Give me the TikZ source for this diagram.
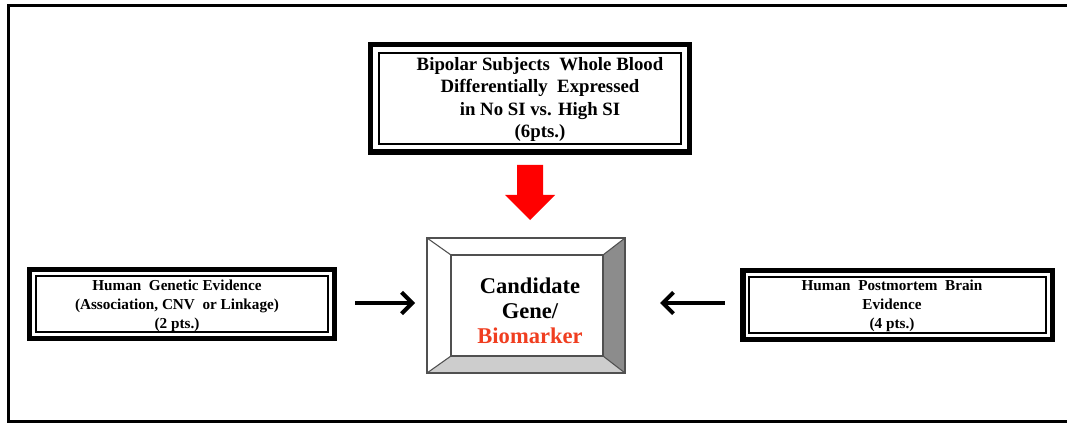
\documentclass[tikz,border=0pt]{standalone}
\usepackage{fontspec}
\setmainfont{Liberation Serif}
\usetikzlibrary{calc,arrows.meta}
\definecolor{bioorange}{RGB}{240,62,32}
\definecolor{bevdark}{RGB}{140,140,140}
\definecolor{bevlight}{RGB}{205,205,205}
\definecolor{bevline}{RGB}{80,80,80}
\tikzset{
  thickbox/.style={draw=black, line width=4.1pt, fill=white, inner sep=0pt, outer sep=0pt},
  thinline/.style={draw=black, line width=1.9pt},
  toptxt/.style={font=\fontsize{14.1pt}{16.9pt}\selectfont\bfseries, align=center, inner sep=0pt},
  sidetxt/.style={font=\fontsize{11.4pt}{14pt}\selectfont\bfseries, align=center, inner sep=0pt},
  candtxt/.style={font=\fontsize{16.9pt}{18.8pt}\selectfont\bfseries, align=center, inner sep=0pt},
  blkarrow/.style={line width=3pt, -{Straight Barb[length=8pt,width=16pt]}},
  bevel/.style={draw=bevline, line width=0.8pt, line join=miter}
}
\begin{document}
\begin{tikzpicture}[x=0.75pt, y=-0.75pt]
\useasboundingbox (0,0) rectangle (1067,424);
% outer frame (right side runs off the picture)
\draw[line width=2.3pt] (1067,5.5) -- (8.5,5.5) -- (8.5,421.5) -- (1067,421.5);

% top box
\node[thickbox, minimum width=238.9pt, minimum height=80.6pt] (top) at (530,98.5) {};
\draw[thinline] ([shift={(6.2pt,-6.2pt)}]top.north west) rectangle ([shift={(-6.2pt,6.2pt)}]top.south east);
\node[toptxt] (toptext) at (540,99.5) {Bipolar Subjects\ \ Whole Blood\\Differentially\ \ Expressed\\in No SI vs. High SI\\(6pts.)};

% left box
\node[thickbox, minimum width=228.4pt, minimum height=51.4pt] (left) at (182,304) {};
\draw[thinline] ([shift={(4.8pt,-4.8pt)}]left.north west) rectangle ([shift={(-4.8pt,4.8pt)}]left.south east);
\node[sidetxt] (lefttext) at (177,306) {Human\ \ Genetic Evidence\\(Association, CNV\ \ or Linkage)\\(2 pts.)};

% right box
\node[thickbox, minimum width=232.1pt, minimum height=51.4pt] (right) at (897.5,305) {};
\draw[thinline] ([shift={(4.8pt,-4.8pt)}]right.north west) rectangle ([shift={(-4.8pt,4.8pt)}]right.south east);
\node[sidetxt] (righttext) at (892,306) {Human\ \ Postmortem\ \ Brain\\Evidence\\(4 pts.)};

% center bevel box
\node[inner sep=0pt, outer sep=0pt, minimum width=148.5pt, minimum height=101.25pt] (cand) at (526,305.5) {};
\coordinate (onw) at (cand.north west);
\coordinate (one) at (cand.north east);
\coordinate (ose) at (cand.south east);
\coordinate (osw) at (cand.south west);
\coordinate (inw) at ($(cand.north west)+(24,17)$);
\coordinate (ine) at ($(cand.north east)+(-22,17)$);
\coordinate (ise) at ($(cand.south east)+(-22,-17)$);
\coordinate (isw) at ($(cand.south west)+(24,-17)$);
\fill[white] (onw) -- (one) -- (ine) -- (inw) -- cycle;
\fill[white] (onw) -- (inw) -- (isw) -- (osw) -- cycle;
\fill[bevdark] (one) -- (ose) -- (ise) -- (ine) -- cycle;
\fill[bevlight] (osw) -- (isw) -- (ise) -- (ose) -- cycle;
\fill[white] (inw) rectangle (ise);
\draw[bevel] (onw) rectangle (ose);
\draw[bevel] (inw) rectangle (ise);
\draw[bevel] (onw) -- (inw) (one) -- (ine) (ose) -- (ise) (osw) -- (isw);
\node[candtxt] (candtext) at (530,311) {Candidate\\Gene/\\\textcolor{bioorange}{Biomarker}};

% red block arrow from top box to candidate
\fill[red] (517,165) -- (543,165) -- (543,195) -- (555,195) -- (530,220) -- (505,195) -- (517,195) -- cycle;

% black arrows
\draw[blkarrow, shorten <=15.75pt, shorten >=9pt] (left.east |- 0,303) -- (cand.west |- 0,303);
\draw[blkarrow, shorten <=13.5pt, shorten >=26.25pt] (right.west |- 0,303) -- (cand.east |- 0,303);
\end{tikzpicture}
\end{document}
